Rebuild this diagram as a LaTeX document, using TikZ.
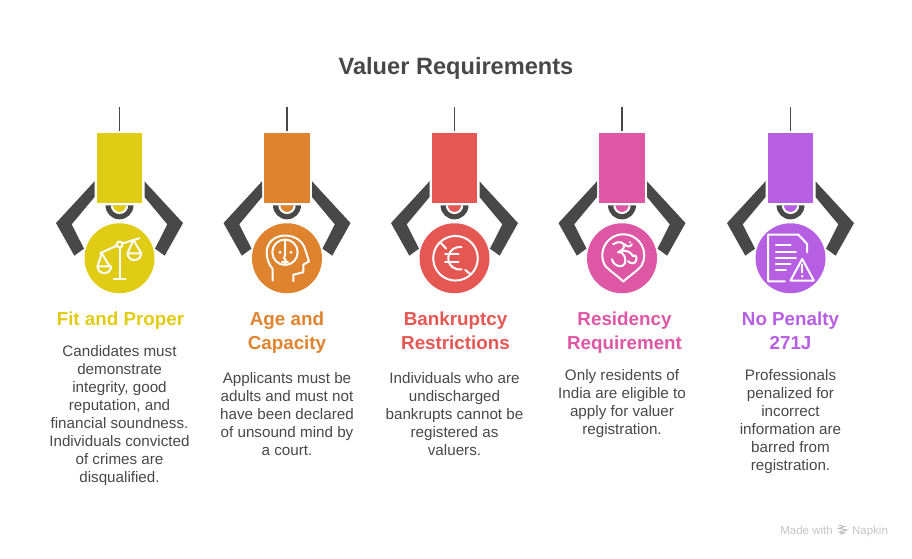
\documentclass[tikz,border=0pt]{standalone}
\usepackage{fontspec}
\setmainfont{Liberation Sans}
\usetikzlibrary{positioning}

\definecolor{inkgray}{HTML}{484848}
\definecolor{markgray}{HTML}{C4C4C4}
\definecolor{fityellow}{HTML}{E0CB15}
\definecolor{ageorange}{HTML}{DF832F}
\definecolor{bankred}{HTML}{E55753}
\definecolor{homepink}{HTML}{DE57A5}
\definecolor{penaltypurple}{HTML}{B75FE2}

\begin{document}
\begin{tikzpicture} [
    x=1pt, y=-1pt,
    title/.style={font=\fontsize{23.6}{28}\selectfont\bfseries, text=inkgray},
    box/.style={rectangle, minimum width=45.6pt, minimum height=70.3pt, inner sep=0pt},
    badge/.style={circle, minimum size=70pt, inner sep=0pt},
    head/.style={font=\fontsize{18.8}{24}\selectfont\bfseries, align=center, inner sep=0pt},
    body/.style={font=\fontsize{15.2}{18}\selectfont, text=inkgray, align=center, inner sep=0pt},
    watermark/.style={font=\fontsize{11.5}{14}\selectfont, text=markgray, inner sep=0pt, anchor=base},
    cable/.style={draw=inkgray, line width=1.5pt, shorten >=1.5pt},
    icon/.style={draw=white, line width=2pt, line cap=round, line join=round},
    pics/claw/.style={code={
        \fill[inkgray] (-25,-22) -- (-63.5,19.7) -- (-45.2,52.3) -- (-35.5,45.3) -- (-47.8,21) -- (-25,-6.3) -- cycle;
        \fill[inkgray] (25,-22) -- (63.5,19.7) -- (45.2,52.3) -- (35.5,45.3) -- (47.8,21) -- (25,-6.3) -- cycle;
        \fill[inkgray] (-14,2) arc[start angle=180, end angle=0, radius=14] -- cycle;
        \fill[white] (-8.7,2) arc[start angle=180, end angle=0, radius=8.7] -- cycle;
        \fill[#1] (-6.5,2) arc[start angle=180, end angle=0, radius=6.5] -- cycle;
    }},
    pics/scales/.style={code={
        \draw[icon] (-19.3,-5) -- (-2.8,-12.6) (2.8,-14.8) -- (20,-20);
        \draw[icon] (0,-13.7) circle[radius=3];
        \draw[icon] (0,-10.7) -- (0,20.7) (-5.7,20.7) -- (6,20.7);
        \draw[icon] (-22,8) -- (-17.7,-5) -- (-10,8);
        \draw[icon] (-22,8) -- (-8.3,8) arc[start angle=0, end angle=180, radius=6.85];
        \draw[icon] (8,-5) -- (14,-18.3) -- (21.7,-5);
        \draw[icon] (8,-5) -- (21.7,-5) arc[start angle=0, end angle=180, radius=6.85];
    }},
    pics/mind/.style={code={
        \draw[icon] (-14.3,22.3) -- (-14.3,10.7) .. controls (-18.5,6) and (-20.3,0) .. (-20.3,-6)
            .. controls (-20.3,-16) and (-12,-22.7) .. (-2,-22.7)
            .. controls (8,-22.7) and (16,-17) .. (18,-9.3)
            -- (22,3.3) -- (16.3,6.3) -- (16.3,14) -- (6.3,16.5) -- (6.3,23);
        \draw[icon] (-2,-6) circle[radius=12.7];
        \draw[icon] (-2,-18.7) -- (-2,-3) -- (-3,0) -- (-1,2) (-5,3.5) -- (1,3.5) (-2,3.5) -- (-2,6.7);
        \fill[white] (-7,-6) circle[radius=1.7] (4,-6) circle[radius=1.7];
    }},
    pics/noeuro/.style={code={
        \draw[icon] (1,0) circle[radius=22.3];
        \draw[icon] (-14.3,-16) -- (-8.3,-9.5) (10.7,11.7) -- (16.3,16.3);
        \draw[icon] (7,-11.1) arc[start angle=-80, end angle=-280, radius=11.3];
        \draw[icon] (-9.3,-4.3) -- (4,-4.3) (-9.3,4) -- (4,4);
    }},
    pics/om/.style={code={
        \draw[icon] (-16.9,7.5) arc[start angle=150, end angle=390, radius=21]
            .. controls (15,13) and (8,17) .. (1.3,23.3) .. controls (-5,17) and (-12,13) .. cycle;
        \draw[icon] (-9,-14) .. controls (-4,-18) and (4,-16) .. (2,-11) .. controls (1,-8) and (-3,-7) .. (-4,-6)
            .. controls (3,-7) and (4,2) .. (3,5) .. controls (1,10) and (-8,9) .. (-10,1);
        \draw[icon] (-2,-6) .. controls (4,-10) and (10,-5) .. (11,-2) .. controls (15,-6) and (16,3) .. (12,5) .. controls (9,5.5) and (7,4) .. (6,3);
        \draw[icon] (3,-14) .. controls (5,-11) and (8,-11) .. (10,-14);
        \fill[white] (8,-16) circle[radius=1.2];
    }},
    pics/report/.style={code={
        \draw[icon] (-5.7,23) -- (-22.3,23) -- (-22.3,-23.7) -- (7.7,-23.7) -- (16.7,-14.3) -- (16.7,-6);
        \draw[icon] (-14.7,-13.3) -- (0,-13.3) (-14.7,-6.7) -- (5.3,-6.7) (-14.7,0) -- (5.3,0) (-14.7,5.7) -- (0,5.7) (-14.7,11.3) -- (-4.7,11.3);
        \draw[icon] (11.7,0.7) -- (0,22.3) -- (23.3,22.3) -- cycle;
        \draw[icon] (11.7,6.3) -- (11.7,14);
        \fill[white] (11.7,18) circle[radius=1.3];
    }},
    pics/napkin/.style={code={
        \draw[draw=markgray, line width=1.1pt] (-4,-4.5) -- (2,-3) -- (-4,-1) -- (4.5,0.5) -- (-3,2.5) -- (2,3.5) -- (-3,5);
    }}
]

\useasboundingbox (0,0) rectangle (912,558);

% Title
\node[title] (title) at (456,68.5) {Valuer Requirements};

% Column 1: Fit and Proper
\coordinate (fitcable) at (119.5,107);
\node[box, fill=fityellow] (fitbox) at (119.5,168) {};
\node[badge, fill=fityellow, below=19.7pt of fitbox] (fitbadge) {};
\node[head, text=fityellow, below=18pt of fitbadge, xshift=1pt] (fithead) {Fit and Proper};
\node[body, below=16pt of fithead, xshift=-1pt] (fitbody) {Candidates must\\demonstrate\\integrity, good\\reputation, and\\financial soundness.\\Individuals convicted\\of crimes are\\disqualified.};
\draw[cable] (fitcable) -- (fitbox);
\pic at (fitbox.south) {claw=fityellow};
\pic at (fitbadge) {scales};

% Column 2: Age and Capacity
\coordinate (agecable) at (287,107);
\node[box, fill=ageorange] (agebox) at (287,168) {};
\node[badge, fill=ageorange, below=19.7pt of agebox] (agebadge) {};
\node[head, text=ageorange, below=18pt of agebadge] (agehead) {Age and\\Capacity};
\node[body, below=19pt of agehead] (agebody) {Applicants must be\\adults and must not\\have been declared\\of unsound mind by\\a court.};
\draw[cable] (agecable) -- (agebox);
\pic at (agebox.south) {claw=ageorange};
\pic at (agebadge) {mind};

% Column 3: Bankruptcy Restrictions
\coordinate (bankcable) at (454.5,107);
\node[box, fill=bankred] (bankbox) at (454.5,168) {};
\node[badge, fill=bankred, below=19.7pt of bankbox] (bankbadge) {};
\node[head, text=bankred, below=18pt of bankbadge, xshift=1pt] (bankhead) {Bankruptcy\\Restrictions};
\node[body, below=23pt of bankhead, xshift=-1pt] (bankbody) {Individuals who are\\undischarged\\bankrupts cannot be\\registered as\\valuers.};
\draw[cable] (bankcable) -- (bankbox);
\pic at (bankbox.south) {claw=bankred};
\pic at (bankbadge) {noeuro};

% Column 4: Residency Requirement
\coordinate (homecable) at (622,107);
\node[box, fill=homepink] (homebox) at (622,168) {};
\node[badge, fill=homepink, below=19.7pt of homebox] (homebadge) {};
\node[head, text=homepink, below=18pt of homebadge, xshift=2.5pt] (homehead) {Residency\\Requirement};
\node[body, below=15.5pt of homehead, xshift=-2.5pt] (homebody) {Only residents of\\India are eligible to\\apply for valuer\\registration.};
\draw[cable] (homecable) -- (homebox);
\pic at (homebox.south) {claw=homepink};
\pic at (homebadge) {om};

% Column 5: No Penalty 271J
\coordinate (penaltycable) at (790.5,107);
\node[box, fill=penaltypurple] (penaltybox) at (790.5,168) {};
\node[badge, fill=penaltypurple, below=19.7pt of penaltybox] (penaltybadge) {};
\node[head, text=penaltypurple, below=18pt of penaltybadge] (penaltyhead) {No Penalty\\271J};
\node[body, below=20pt of penaltyhead] (penaltybody) {Professionals\\penalized for\\incorrect\\information are\\barred from\\registration.};
\draw[cable] (penaltycable) -- (penaltybox);
\pic at (penaltybox.south) {claw=penaltypurple};
\pic at (penaltybadge) {report};

% Watermark
\node[watermark] (madewith) at (806.5,534) {Made with};
\node[watermark] (napkin) at (870,534) {Napkin};
\pic at (842.5,529.5) {napkin};

\end{tikzpicture}
\end{document}
